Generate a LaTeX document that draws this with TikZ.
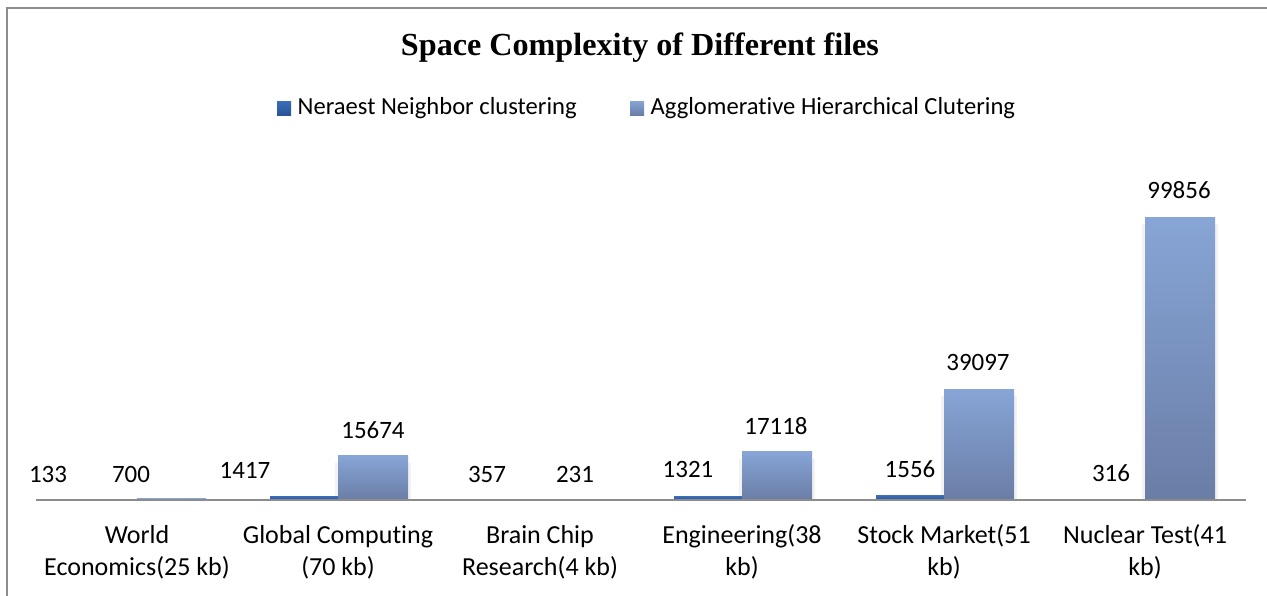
\documentclass[tikz,border=0pt]{standalone}
\usepackage{fontspec}
\setmainfont{Liberation Serif}
\newfontfamily\chartfont[RawFeature={-liga;-clig;-calt}]{Carlito}
\usetikzlibrary{positioning}
\definecolor{nntop}{HTML}{3A6DB8}
\definecolor{nnbot}{HTML}{2A5597}
\definecolor{ahtop}{HTML}{87A5D6}
\definecolor{ahbot}{HTML}{6A7DA6}
\definecolor{frame}{HTML}{8C8C8C}

\begin{document}
\begin{tikzpicture} [x=0.02cm, y=-0.02cm,
  val/.style={font=\chartfont\fontsize{14.2}{17}\selectfont, inner sep=0pt},
  leg/.style={font=\chartfont\fontsize{14}{17}\selectfont, inner sep=0pt},
  cat/.style={font=\chartfont\fontsize{14.8}{18.1}\selectfont, align=center, inner sep=0pt},
  key/.style={minimum size=0.28cm, inner sep=0pt},
  nnbar/.style={top color=nntop, bottom color=nnbot},
  ahbar/.style={top color=ahtop, bottom color=ahbot},
  shadow/.style={fill=black!5}]
  \useasboundingbox (0,0) rectangle (1267,595);
  \draw[frame, line width=2\pgflinewidth] (7,600) -- (7,8) -- (1270,8);

  \draw (640,48) node[font=\bfseries\fontsize{18.3}{21}\selectfont](title) {Space Complexity of Different files};
  \draw (284,108) node[key, nnbar](key1) {};
  \draw (637,108) node[key, ahbar](key2) {};
  \node[leg, right=0.12cm of key1](lab1) {Neraest Neighbor clustering};
  \node[leg, right=0.12cm of key2](lab2) {Agglomerative Hierarchical Clutering};

  % bars, heights are 283px for 99856
  \fill[shadow] (335,500) rectangle (411,463);
  \fill[shadow] (739,500) rectangle (815,459);
  \fill[shadow] (941,500) rectangle (1017,396);
  \fill[shadow] (1142,500) rectangle (1218,224);
  \shade[nnbar] (68,500) rectangle (137,499.6);
  \shade[ahbar] (137,500) rectangle (206,498.0);
  \shade[nnbar] (270,500) rectangle (338,496.0);
  \shade[ahbar] (338,500) rectangle (408,455.6);
  \shade[nnbar] (472,500) rectangle (540,499.0);
  \shade[ahbar] (540,500) rectangle (610,499.4);
  \shade[nnbar] (674,500) rectangle (742,496.3);
  \shade[ahbar] (742,500) rectangle (812,451.5);
  \shade[nnbar] (876,500) rectangle (944,495.6);
  \shade[ahbar] (944,500) rectangle (1014,389.2);
  \shade[nnbar] (1077,500) rectangle (1145,499.1);
  \shade[ahbar] (1145,500) rectangle (1215,217.0);

  \draw (36,500) coordinate(axl) (1246,500) coordinate(axr);
  \draw[frame, line width=2\pgflinewidth] (axl) -- (axr);

  \draw (48,474)   node[val](v1) {133};
  \draw (131,474)  node[val](v2) {700};
  \draw (245,470)  node[val](v3) {1417};
  \draw (373,430)  node[val](v4) {15674};
  \draw (487,474)  node[val](v5) {357};
  \draw (575,474)  node[val](v6) {231};
  \draw (688,469)  node[val](v7) {1321};
  \draw (776,426)  node[val](v8) {17118};
  \draw (910,469)  node[val](v9) {1556};
  \draw (978,362)  node[val](v10) {39097};
  \draw (1111,473) node[val](v11) {316};
  \draw (1179,190) node[val](v12) {99856};

  \draw (137,552)  node[cat](c1) {World\\Economics(25 kb)};
  \draw (338,552)  node[cat](c2) {Global Computing\\(70 kb)};
  \draw (540,552)  node[cat](c3) {Brain Chip\\Research(4 kb)};
  \draw (742,552)  node[cat](c4) {Engineering(38\\kb)};
  \draw (944,552)  node[cat](c5) {Stock Market(51\\kb)};
  \draw (1145,552) node[cat](c6) {Nuclear Test(41\\kb)};
\end{tikzpicture}
\end{document}
